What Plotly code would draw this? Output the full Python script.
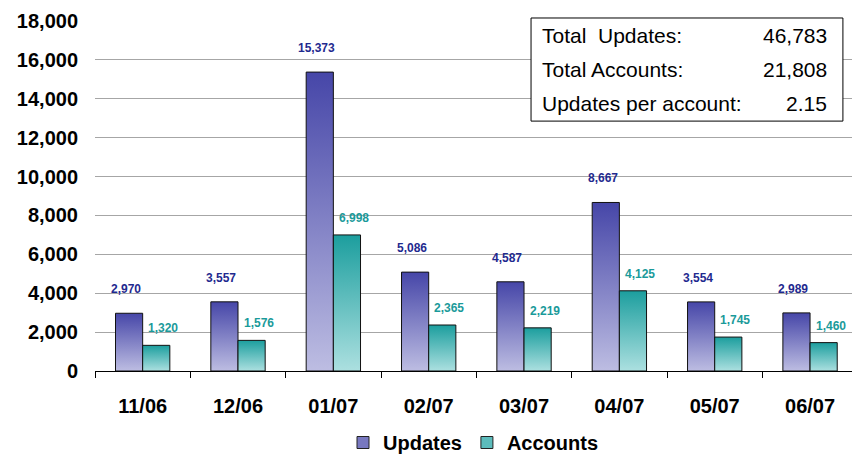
import plotly.graph_objects as go

months = ["11/06", "12/06", "01/07", "02/07", "03/07", "04/07", "05/07", "06/07"]
updates = [2970, 3557, 15373, 5086, 4587, 8667, 3554, 2989]
accounts = [1320, 1576, 6998, 2365, 2219, 4125, 1745, 1460]
y_ticks = [0, 2000, 4000, 6000, 8000, 10000, 12000, 14000, 16000, 18000]
summary_labels = ["Total\u00a0 Updates:", "Total Accounts:", "Updates per account:"]
summary_values = ["46,783", "21,808", "2.15"]

W = 0.285
UPD_DARK, UPD_LIGHT = "#4646a8", "#bdbde2"
ACC_DARK, ACC_LIGHT = "#1c9e9e", "#ace0e0"
UPD_TXT, ACC_TXT = "#1f2a8f", "#1a9a9a"
FONT = "Arial, Liberation Sans, sans-serif"

fig = go.Figure()

def add_bar(i, v, left, dark, light):
    x0 = i - W if left else i
    x1 = i if left else i + W
    fig.add_trace(go.Scatter(
        x=[x0, x0, x1, x1, x0], y=[0, v, v, 0, 0],
        mode="lines", fill="toself",
        fillgradient=dict(type="vertical", start=0, stop=v,
                          colorscale=[[0, light], [1, dark]]),
        line=dict(color="#111111", width=1),
        showlegend=False, hoverinfo="skip"))

for i, (u, a) in enumerate(zip(updates, accounts)):
    add_bar(i, u, True, UPD_DARK, UPD_LIGHT)
    add_bar(i, a, False, ACC_DARK, ACC_LIGHT)

# legend-only entries
fig.add_trace(go.Bar(x=[None], y=[None], name="Updates",
                     marker=dict(color="#7878c0", line=dict(color="#222", width=1))))
fig.add_trace(go.Bar(x=[None], y=[None], name="Accounts",
                     marker=dict(color="#5cbcbc", line=dict(color="#222", width=1))))

annotations = []
for i, (u, a) in enumerate(zip(updates, accounts)):
    annotations.append(dict(x=i - W / 2, y=u, text=f"{u:,}", showarrow=False,
                            yshift=24, xshift=-3,
                            font=dict(size=12, color=UPD_TXT, family=FONT, weight="bold")))
    annotations.append(dict(x=i + W / 2, y=a, text=f"{a:,}", showarrow=False,
                            yshift=17, xshift=7,
                            font=dict(size=12, color=ACC_TXT, family=FONT, weight="bold")))

row_y = [0.96, 0.862, 0.763]
for lab, val, ry in zip(summary_labels, summary_values, row_y):
    annotations.append(dict(xref="paper", yref="paper", x=0.588, y=ry, text=lab,
                            showarrow=False, xanchor="left", yanchor="middle",
                            font=dict(size=21, color="black", family=FONT)))
    annotations.append(dict(xref="paper", yref="paper", x=0.9696, y=ry, text=val,
                            showarrow=False, xanchor="right", yanchor="middle",
                            font=dict(size=21, color="black", family=FONT)))

fig.add_shape(type="rect", xref="paper", yref="paper",
              x0=0.576, x1=0.988, y0=0.714, y1=1.0086,
              line=dict(color="black", width=1), fillcolor="white", layer="above")

fig.update_layout(
    width=852, height=462,
    margin=dict(l=95, r=0, t=21, b=91, autoexpand=False),
    plot_bgcolor="white", paper_bgcolor="white",
    font=dict(family=FONT, color="black"),
    annotations=annotations,
    showlegend=True,
    legend=dict(orientation="h", x=0.5, xanchor="center",
                yref="container", y=0.0, yanchor="bottom",
                font=dict(size=20, family=FONT, weight="bold"),
                itemwidth=30, tracegroupgap=0),
    xaxis=dict(range=[-0.5, 7.44], tickmode="array", tickvals=list(range(len(months))),
               ticktext=months, ticks="", showgrid=False, zeroline=False,
               showline=True, linecolor="black", linewidth=1,
               ticklabelstandoff=17, automargin=False,
               tickfont=dict(size=20, family=FONT, weight="bold"),
               minor=dict(tickmode="array", tickvals=[k - 0.5 for k in range(len(months))],
                          ticks="outside", ticklen=6, tickcolor="black", tickwidth=1,
                          showgrid=False),
               fixedrange=True),
    yaxis=dict(range=[0, 18000], tickmode="array", tickvals=y_ticks,
               ticktext=[f"{t:,}" for t in y_ticks], ticks="",
               showgrid=True, gridcolor="#a6a6a6", gridwidth=1, zeroline=False,
               showline=False, ticklabelstandoff=16, automargin=False,
               tickfont=dict(size=20, family=FONT, weight="bold"),
               fixedrange=True),
)

fig.write_html("out.html", config={"displayModeBar": False},
               post_script="document.body.style.margin='0';document.body.style.overflow='hidden';")
